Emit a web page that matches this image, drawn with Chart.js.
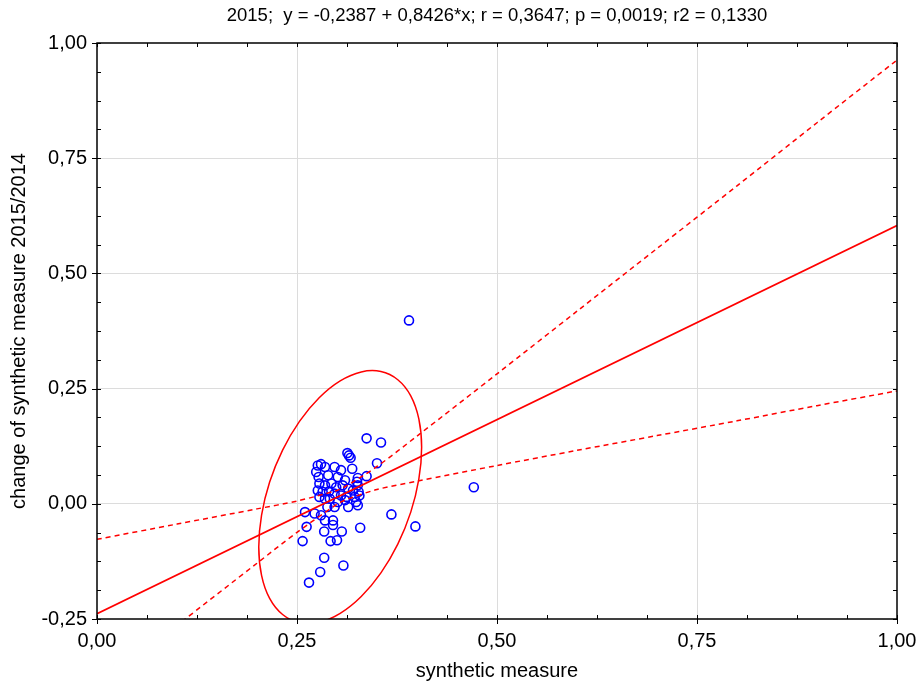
<!DOCTYPE html>
<html>
<head>
<meta charset="utf-8">
<script src="https://cdn.jsdelivr.net/npm/chart.js@4.4.1/dist/chart.umd.min.js"></script>
<style>
    body { margin: 0; background: #fff; }
    canvas { display: block; }
</style>
</head>
<body>
<canvas id="chart" width="919" height="686"></canvas>
<script>
// observed points (synthetic measure, change 2015/2014)
var pointX = [0.390, 0.471, 0.337, 0.355, 0.313, 0.315, 0.317, 0.350, 0.319, 0.337,
    0.368, 0.398, 0.329, 0.260, 0.262, 0.257, 0.284, 0.308, 0.279, 0.265,
    0.292, 0.300, 0.306, 0.284, 0.295, 0.285, 0.295, 0.272, 0.280, 0.288,
    0.297, 0.314, 0.324, 0.326, 0.301, 0.310, 0.322, 0.328, 0.305, 0.312,
    0.278, 0.285, 0.291, 0.326, 0.327, 0.325, 0.314, 0.320, 0.276, 0.282,
    0.290, 0.297, 0.278, 0.285, 0.293, 0.299, 0.307, 0.274, 0.277, 0.289,
    0.301, 0.310, 0.326, 0.276, 0.285, 0.297, 0.305, 0.280];
var pointY = [0.398, 0.036, 0.142, 0.133, 0.110, 0.105, 0.100, 0.088, 0.076, 0.060,
    -0.023, -0.049, -0.052, -0.018, -0.050, -0.081, -0.117, -0.134, -0.148, -0.171,
    -0.081, -0.079, -0.060, -0.060, -0.046, -0.036, -0.036, -0.021, -0.025, -0.007,
    -0.007, -0.007, 0.004, -0.003, 0.004, 0.008, 0.015, 0.018, 0.018, 0.015,
    0.015, 0.011, 0.011, 0.040, 0.026, 0.048, 0.033, 0.029, 0.029, 0.026,
    0.027, 0.022, 0.044, 0.040, 0.044, 0.036, 0.040, 0.069, 0.058, 0.062,
    0.058, 0.051, 0.056, 0.083, 0.080, 0.080, 0.073, 0.086];

// fitted line y = -0,2387 + 0,8426*x
var fitX = [0, 1];
var fitY = [-0.2387, 0.6039];

// 95% bands
var bandX = [0, 0.1, 0.2, 0.25, 0.3, 0.31, 0.35, 0.4, 0.5, 0.6, 0.7, 0.8, 0.9, 1.0];
var bandUpper = [-0.077, -0.044, -0.011, 0.006, 0.029, 0.037, 0.081, 0.147, 0.282, 0.418, 0.554, 0.690, 0.827, 0.963];
var bandLower = [-0.400, -0.264, -0.129, -0.062, -0.001, 0.008, 0.031, 0.049, 0.083, 0.116, 0.148, 0.180, 0.213, 0.245];

// confidence ellipse outline (starts and ends below the axis so the seam is hidden)
var ellipseX = [0.2531, 0.2777, 0.3040, 0.3303, 0.3549, 0.3760, 0.3922, 0.4023, 0.4058,
    0.4023, 0.3922, 0.3760, 0.3549, 0.3303, 0.3040, 0.2777, 0.2531, 0.2320, 0.2158,
    0.2057, 0.2022, 0.2057, 0.2158, 0.2320, 0.2531, 0.2777];
var ellipseY = [-0.2581, -0.2572, -0.2378, -0.2012, -0.1499, -0.0875, -0.0181, 0.0536, 0.1226,
    0.1842, 0.2343, 0.2693, 0.2871, 0.2862, 0.2668, 0.2302, 0.1789, 0.1165, 0.0471,
    -0.0246, -0.0936, -0.1552, -0.2053, -0.2403, -0.2581, -0.2572];

var xTicks = [0, 0.25, 0.5, 0.75, 1];
var yTicks = [-0.25, 0, 0.25, 0.5, 0.75, 1];
var minorStep = 0.0625;

var titleText = '2015;  y = -0,2387 + 0,8426*x; r = 0,3647; p = 0,0019; r2 = 0,1330';

function toPoints(xs, ys) {
    var out = [];
    for (var i = 0; i < xs.length; i++) {
        out.push({x: xs[i], y: ys[i]});
    }
    return out;
}

function commaLabel(value) {
    return value.toFixed(2).replace('.', ',');
}

var fontName = '"Liberation Sans", Arial, sans-serif';

// frame around the plot with small inward ticks on every side
var framePlugin = {
    id: 'frame',
    afterDatasetsDraw: function (chart) {
        var ctx = chart.ctx;
        var area = chart.chartArea;
        var xs = chart.scales.x;
        var ys = chart.scales.y;
        ctx.save();
        ctx.strokeStyle = '#000';
        ctx.lineWidth = 1;
        ctx.beginPath();
        var v, p;
        for (v = xs.min; v <= xs.max + 1e-9; v += minorStep) {
            p = Math.round(xs.getPixelForValue(v)) + 0.5;
            ctx.moveTo(p, area.bottom);
            ctx.lineTo(p, area.bottom - 4);
            ctx.moveTo(p, area.top);
            ctx.lineTo(p, area.top + 4);
        }
        for (v = ys.min; v <= ys.max + 1e-9; v += minorStep) {
            p = Math.round(ys.getPixelForValue(v)) + 0.5;
            ctx.moveTo(area.left, p);
            ctx.lineTo(area.left + 4, p);
            ctx.moveTo(area.right, p);
            ctx.lineTo(area.right - 4, p);
        }
        xTicks.forEach(function (t) {
            p = Math.round(xs.getPixelForValue(t)) + 0.5;
            ctx.moveTo(p, area.bottom);
            ctx.lineTo(p, area.bottom + 5);
        });
        yTicks.forEach(function (t) {
            p = Math.round(ys.getPixelForValue(t)) + 0.5;
            ctx.moveTo(area.left, p);
            ctx.lineTo(area.left - 5, p);
        });
        ctx.stroke();
        ctx.lineWidth = 1.5;
        ctx.strokeRect(area.left, area.top, area.right - area.left, area.bottom - area.top);
        ctx.restore();
    }
};

function gridColor(ctx) {
    var scale = ctx.scale;
    if (Math.abs(ctx.tick.value - scale.min) < 1e-9 || Math.abs(ctx.tick.value - scale.max) < 1e-9) {
        return 'rgba(0,0,0,0)';
    }
    return '#dcdcdc';
}

var redDash = {
    type: 'scatter',
    showLine: true,
    borderColor: '#ff0000',
    borderWidth: 1.5,
    borderDash: [5, 4],
    pointRadius: 0,
    tension: 0.3,
    capBezierPoints: false,
    fill: false
};

var datasets = [
    {
        label: 'fit',
        data: toPoints(fitX, fitY),
        showLine: true,
        borderColor: '#ff0000',
        borderWidth: 1.8,
        pointRadius: 0,
        fill: false
    },
    Object.assign({}, redDash, {label: 'upper', data: toPoints(bandX, bandUpper)}),
    Object.assign({}, redDash, {label: 'lower', data: toPoints(bandX, bandLower)}),
    {
        label: 'ellipse',
        data: toPoints(ellipseX, ellipseY),
        showLine: true,
        borderColor: '#ff0000',
        borderWidth: 1.5,
        pointRadius: 0,
        tension: 0.4,
        capBezierPoints: false,
        fill: false
    },
    {
        label: 'points',
        data: toPoints(pointX, pointY),
        showLine: false,
        pointStyle: 'circle',
        pointRadius: 4.5,
        pointBorderWidth: 1.6,
        pointBorderColor: '#0000ff',
        pointBackgroundColor: 'rgba(0,0,0,0)'
    }
];

var myChart = new Chart(document.getElementById('chart').getContext('2d'), {
    type: 'scatter',
    data: {datasets: datasets},
    plugins: [framePlugin],
    options: {
        responsive: false,
        animation: false,
        devicePixelRatio: 1,
        layout: {padding: {left: 0, right: 22, top: 0, bottom: 0}},
        elements: {line: {capBezierPoints: false}},
        plugins: {
            legend: {display: false},
            tooltip: {enabled: false},
            title: {
                display: true,
                text: titleText,
                fullSize: false,
                color: '#000',
                font: {family: fontName, size: 18.5, weight: 'normal'},
                padding: {top: 5, bottom: 15.8}
            }
        },
        scales: {
            x: {
                type: 'linear',
                min: 0,
                max: 1,
                afterFit: function (scale) {
                    scale.height = 67;
                    // the last label may hang past the plot, the layout padding covers it
                    scale.paddingLeft = 0;
                    scale.paddingRight = 0;
                },
                ticks: {
                    stepSize: 0.25,
                    padding: 10,
                    color: '#000',
                    maxRotation: 0,
                    font: {family: fontName, size: 20},
                    callback: function (v) { return commaLabel(v); }
                },
                grid: {color: gridColor, lineWidth: 1, drawTicks: false},
                border: {display: false},
                title: {
                    display: true,
                    text: 'synthetic measure',
                    color: '#000',
                    font: {family: fontName, size: 20},
                    padding: {top: 0, bottom: 3}
                }
            },
            y: {
                type: 'linear',
                min: -0.25,
                max: 1,
                afterFit: function (scale) { scale.width = 97; },
                ticks: {
                    stepSize: 0.25,
                    padding: 10,
                    color: '#000',
                    font: {family: fontName, size: 20},
                    callback: function (v) { return commaLabel(v); }
                },
                grid: {color: gridColor, lineWidth: 1, drawTicks: false},
                border: {display: false},
                title: {
                    display: true,
                    text: 'change of synthetic measure 2015/2014',
                    color: '#000',
                    font: {family: fontName, size: 20},
                    padding: {top: 7, bottom: 0}
                }
            }
        }
    }
});
</script>
</body>
</html>
